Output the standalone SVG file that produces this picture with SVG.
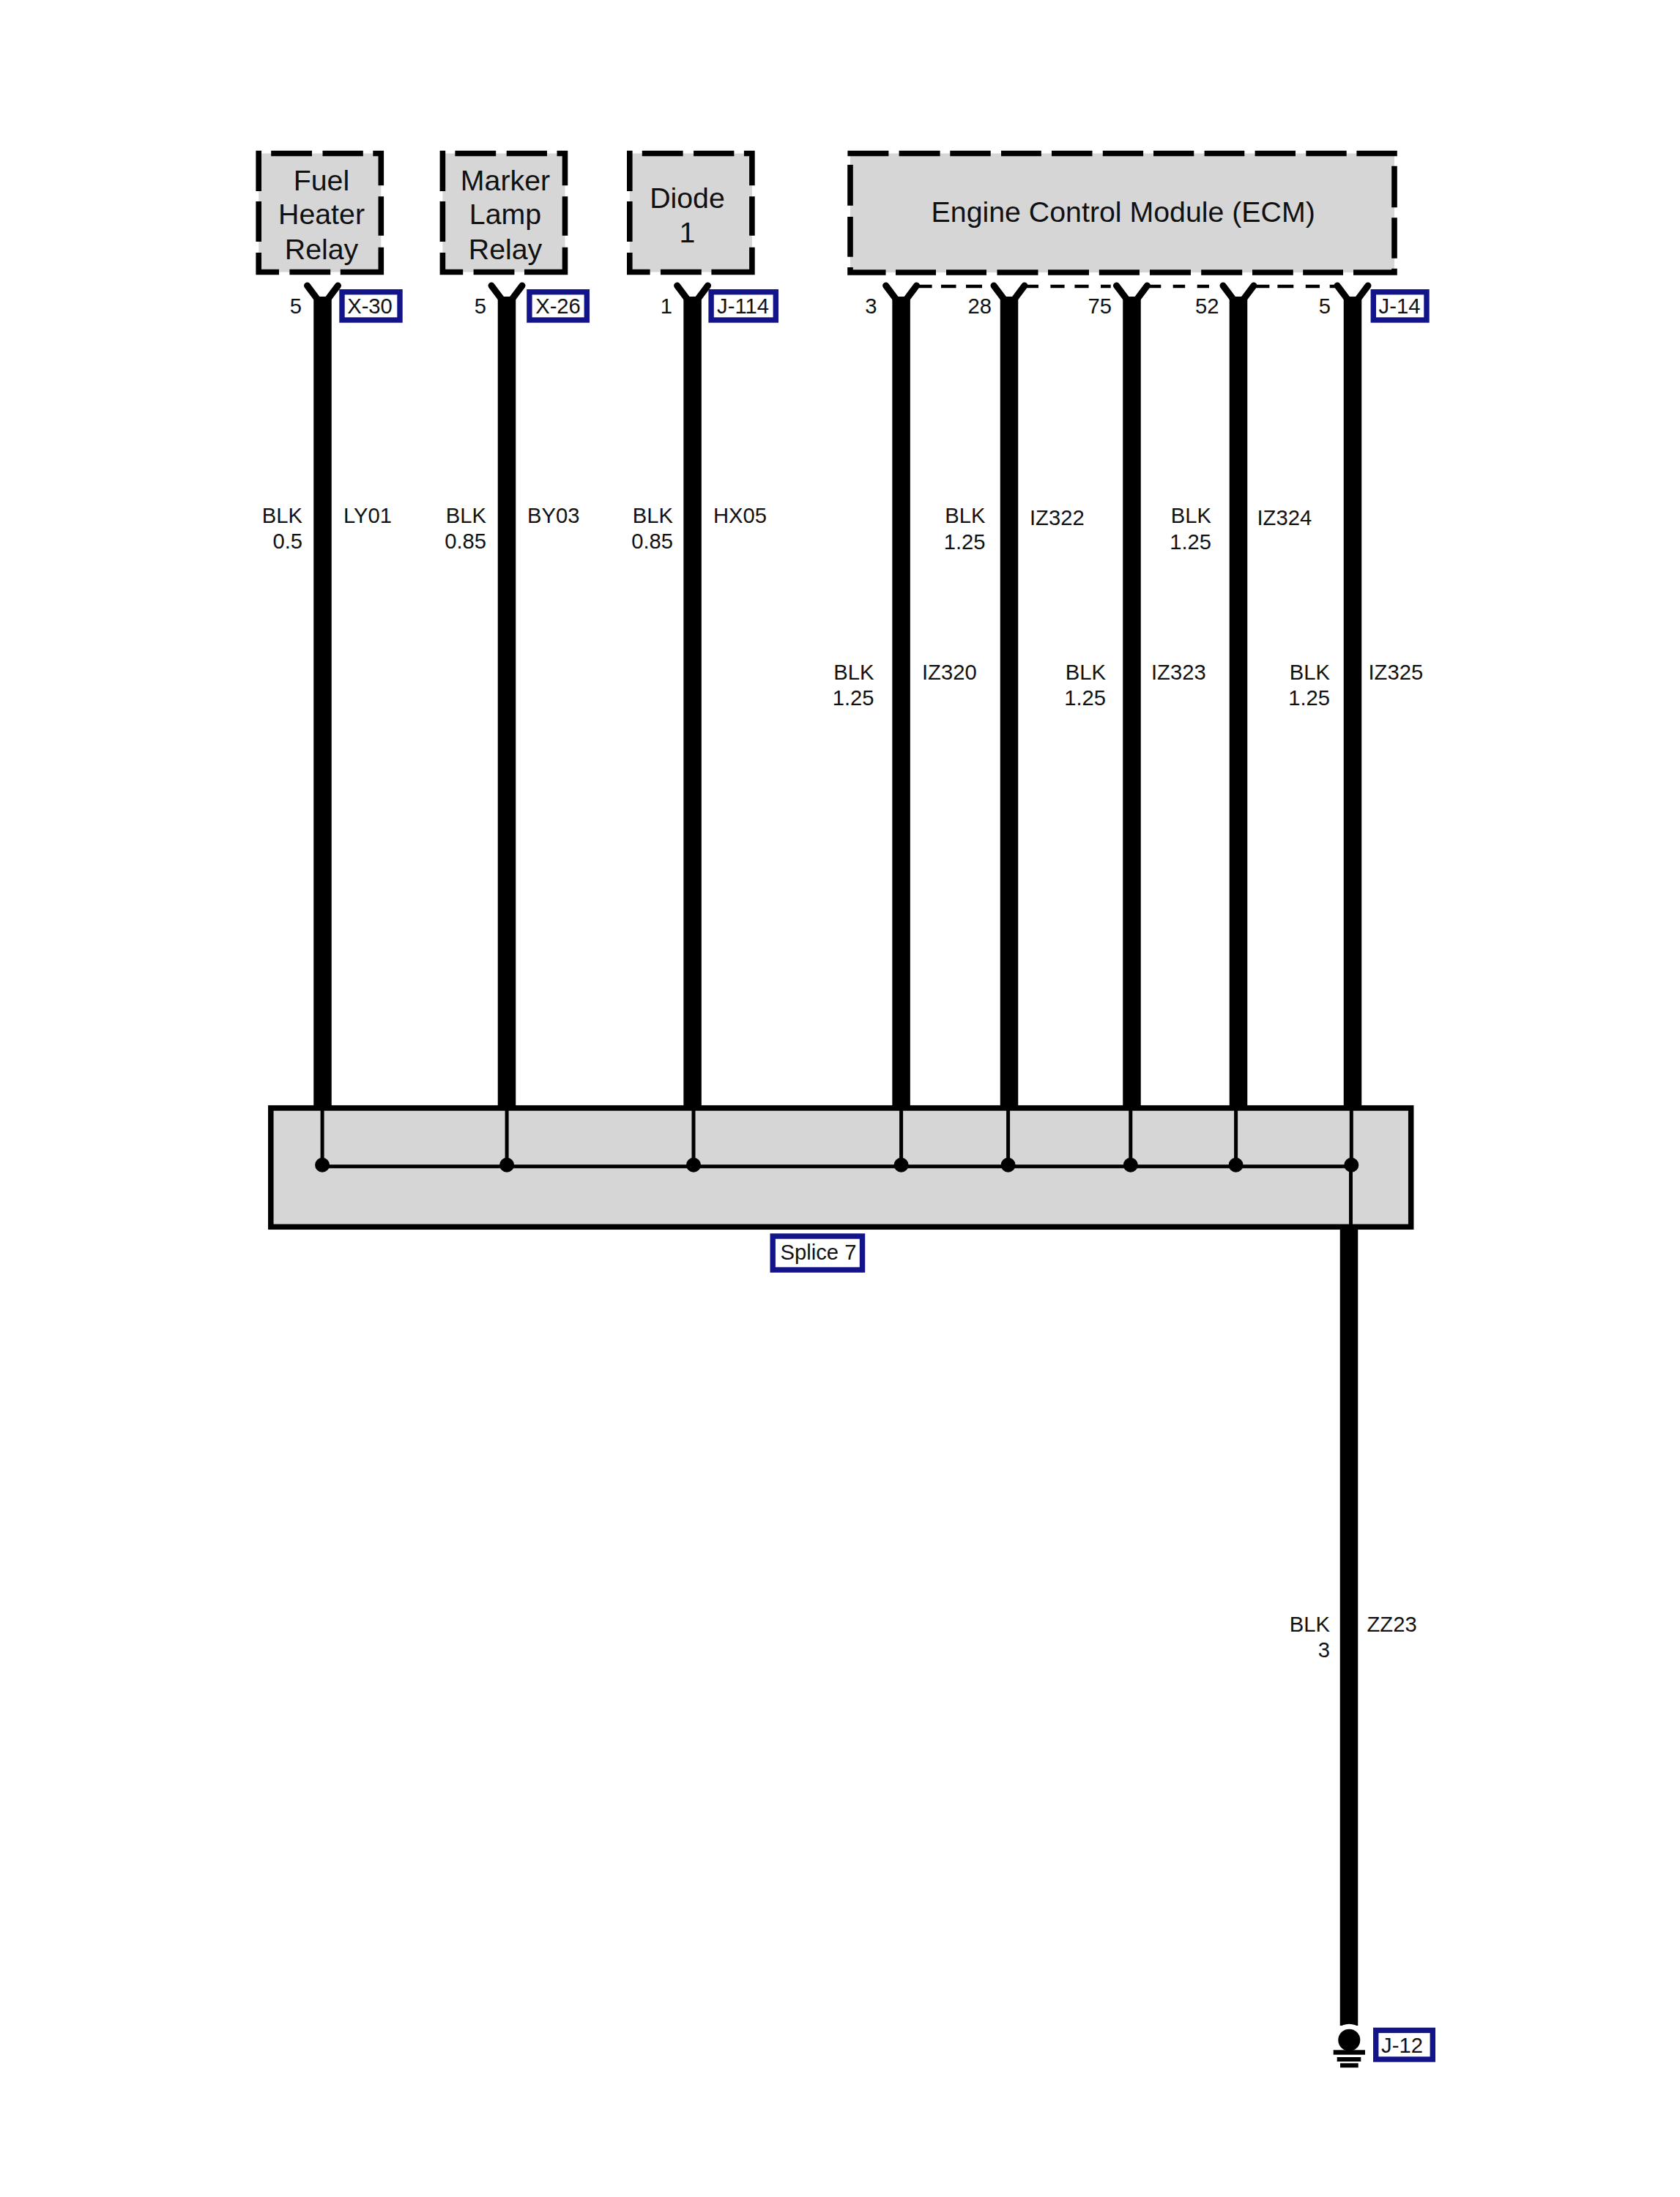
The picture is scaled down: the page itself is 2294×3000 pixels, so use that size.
<svg xmlns="http://www.w3.org/2000/svg" xmlns:xlink="http://www.w3.org/1999/xlink" width="2294" height="3000" viewBox="0 0 2294 3000">
<style>
text{font-family:"Liberation Sans",Arial,sans-serif;fill:#111}
.n{font-size:39.3px;text-anchor:middle}
.t{font-size:29.2px}
.r{text-anchor:end}
.c{text-anchor:middle}
.fill{fill:#d6d6d6;stroke:none}
.dash{fill:none;stroke:#000;stroke-width:7.6}
.tag{fill:#fff;stroke:#14148a;stroke-width:7.4}
.wire{stroke:#000;stroke-width:24.5;fill:none}
.thin{stroke:#000;stroke-width:5;fill:none}
.fork{fill:none;stroke:#000;stroke-width:9;stroke-linecap:round;stroke-linejoin:miter}
</style>
<defs>
<path id="sq" class="dash" d="M353.2 205.7V261M353.2 275V330M353.2 345V371.5H381M395.4 371.5H451.2M464.8 371.5H520.3V337.7M520.3 321.7V268.3M520.3 253.3V209.5H509.3M495.8 209.5H440.5M426 209.5H370.2"/>
<path id="fk" class="fork" d="M-21 -17L0 11L21 -17"/>
</defs>
<rect width="2294" height="3000" fill="#fff"/>
<g id="connectors">
<path class="wire" d="M440.5 405V1512M692 405V1512M945.6 405V1512M1230.6 405V1512M1378 405V1512M1545.5 405V1512M1691 405V1512M1847 405V1512M1842 1676V2766"/>
<use xlink:href="#fk" href="#fk" x="440.5" y="407"/>
<use xlink:href="#fk" href="#fk" x="692" y="407"/>
<use xlink:href="#fk" href="#fk" x="945.6" y="407"/>
<use xlink:href="#fk" href="#fk" x="1230.6" y="407"/>
<use xlink:href="#fk" href="#fk" x="1378" y="407"/>
<use xlink:href="#fk" href="#fk" x="1545.5" y="407"/>
<use xlink:href="#fk" href="#fk" x="1691" y="407"/>
<use xlink:href="#fk" href="#fk" x="1847" y="407"/>
<path fill="none" stroke="#000" stroke-width="4.6" d="M1255 391H1272.6M1285 391H1305.5M1319 391H1341M1401.5 391H1418M1434.4 391H1453.6M1467.4 391H1486.6M1503 391H1516.7M1568.8 391H1585.3M1601.7 391H1618.2M1634.7 391H1651M1714 391H1733.4M1744.4 391H1766.3M1782.8 391H1802M1815.7 391H1824"/>
</g>
<g id="fuel-heater-relay">
<rect class="fill" x="353.2" y="209.5" width="167.1" height="162"/>
<use xlink:href="#sq" href="#sq"/>
<text class="n" x="439" y="259.5">Fuel</text>
<text class="n" x="439" y="306">Heater</text>
<text class="n" x="439" y="353.5">Relay</text>
</g>
<g id="marker-lamp-relay">
<rect class="fill" x="604.4" y="209.5" width="167.1" height="162"/>
<use xlink:href="#sq" href="#sq" x="251.2"/>
<text class="n" x="690" y="259.5">Marker</text>
<text class="n" x="690" y="306">Lamp</text>
<text class="n" x="690" y="353.5">Relay</text>
</g>
<g id="diode-1">
<rect class="fill" x="859.8" y="209.5" width="167.1" height="162"/>
<use xlink:href="#sq" href="#sq" x="506.6"/>
<text class="n" x="938.5" y="283.5">Diode</text>
<text class="n" x="938.5" y="330.5">1</text>
</g>
<g id="ecm">
<rect class="fill" x="1161" y="209.5" width="743" height="162.5"/>
<path class="dash" d="M1157.4 209.5H1213.4M1227.6 209.5H1283.6M1297.3 209.5H1352.7M1367 209.5H1421.8M1436 209.5H1491.5M1505.8 209.5H1561.1M1575 209.5H1630.3M1644.6 209.5H1699.3M1713.6 209.5H1769M1783.3 209.5H1838.7M1852.4 209.5H1907.8M1904 226.7V283.3M1904 297.3V352.7M1904 366.7V372H1848M1834 372H1779.2M1765.8 372H1710M1696.2 372H1640.2M1626 372H1570M1556 372H1500.8M1487 372H1431M1417.5 372H1361.5M1347 372H1292M1278 372H1223M1209.5 372H1161V365M1161 350.7V296M1161 280.7V225"/>
<text class="n" x="1533.7" y="303">Engine Control Module (ECM)</text>
</g>
<g id="splice-7">
<rect x="369.8" y="1513" width="1556.9" height="162.3" fill="#d6d6d6" stroke="#000" stroke-width="7.5"/>
<path class="thin" d="M440.1 1513V1590M692.1 1513V1590M947 1513V1590M1230.6 1513V1590M1376.6 1513V1590M1543.8 1513V1590M1687.6 1513V1590M1845.3 1513V1590M1844.5 1590V1677M440 1592.7H1845"/>
<g fill="#000">
<circle cx="440.1" cy="1590.7" r="10"/><circle cx="692.1" cy="1590.7" r="10"/><circle cx="947" cy="1590.7" r="10"/><circle cx="1230.6" cy="1590.7" r="10"/><circle cx="1376.6" cy="1590.7" r="10"/><circle cx="1543.8" cy="1590.7" r="10"/><circle cx="1687.6" cy="1590.7" r="10"/><circle cx="1845.3" cy="1590.7" r="10"/>
</g>
<rect class="tag" x="1055.2" y="1688" width="122.3" height="46"/>
<text class="t c" x="1117.5" y="1720">Splice 7</text>
</g>
<g id="ground-j-12">
<circle cx="1842.3" cy="2785.7" r="22" fill="#fff"/>
<circle cx="1842.3" cy="2785.7" r="15" fill="#000"/>
<rect x="1820.7" y="2799.3" width="43.3" height="6.4"/>
<rect x="1825.7" y="2809" width="32.6" height="6"/>
<rect x="1830" y="2817.3" width="24.7" height="6"/>
<rect class="tag" x="1878.7" y="2772.4" width="77.6" height="39.6"/>
<text class="t c" x="1914.5" y="2802.7">J-12</text>
</g>
<g id="connector-tags">
<rect class="tag" x="467" y="398.7" width="79" height="38.3"/><text class="t c" x="505" y="428">X-30</text>
<rect class="tag" x="722.9" y="398.7" width="78.4" height="38.3"/><text class="t c" x="762" y="428">X-26</text>
<rect class="tag" x="971.1" y="398.7" width="88.2" height="38.3"/><text class="t c" x="1014.5" y="428">J-114</text>
<rect class="tag" x="1875.3" y="398.7" width="72.7" height="38.3"/><text class="t c" x="1911" y="428">J-14</text>
</g>
<g id="pins">
<text class="t r" x="412" y="428">5</text>
<text class="t r" x="664" y="428">5</text>
<text class="t r" x="918" y="428">1</text>
<text class="t r" x="1197.5" y="428">3</text>
<text class="t r" x="1354" y="428">28</text>
<text class="t r" x="1518" y="428">75</text>
<text class="t r" x="1664.5" y="428">52</text>
<text class="t r" x="1817" y="428">5</text>
</g>
<g id="wire-labels">
<text class="t r" x="413" y="714">BLK</text><text class="t r" x="413" y="749">0.5</text><text class="t" x="469" y="714">LY01</text>
<text class="t r" x="664" y="714">BLK</text><text class="t r" x="664" y="749">0.85</text><text class="t" x="720" y="714">BY03</text>
<text class="t r" x="919" y="714">BLK</text><text class="t r" x="919" y="749">0.85</text><text class="t" x="974" y="714">HX05</text>
<text class="t r" x="1193.5" y="927.5">BLK</text><text class="t r" x="1193.5" y="963">1.25</text><text class="t" x="1259" y="927.5">IZ320</text>
<text class="t r" x="1345.5" y="714">BLK</text><text class="t r" x="1345.5" y="750">1.25</text><text class="t" x="1406" y="717">IZ322</text>
<text class="t r" x="1510" y="927.5">BLK</text><text class="t r" x="1510" y="963">1.25</text><text class="t" x="1572" y="927.5">IZ323</text>
<text class="t r" x="1654" y="714">BLK</text><text class="t r" x="1654" y="750">1.25</text><text class="t" x="1716.5" y="717">IZ324</text>
<text class="t r" x="1816" y="927.5">BLK</text><text class="t r" x="1816" y="963">1.25</text><text class="t" x="1868.5" y="927.5">IZ325</text>
<text class="t r" x="1816" y="2227.7">BLK</text><text class="t r" x="1816" y="2262.7">3</text><text class="t" x="1866.5" y="2227.7">ZZ23</text>
</g>
</svg>
